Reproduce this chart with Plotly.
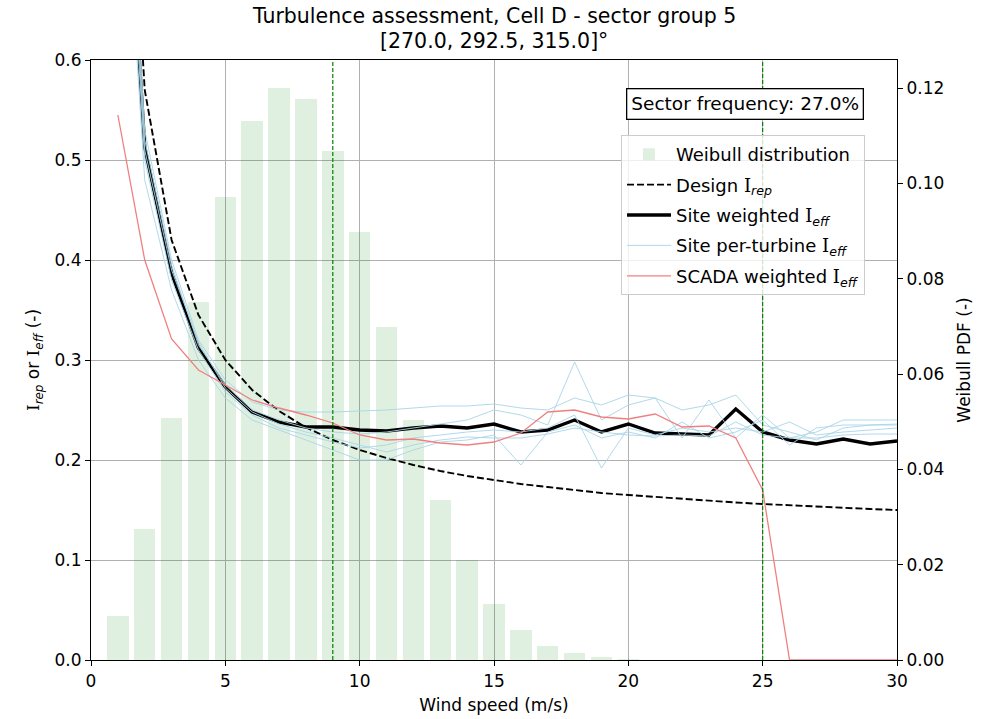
import plotly.graph_objects as go

wind_speed = list(range(1, 31))

weibull_pdf = [0.0092, 0.0275, 0.0508, 0.0751, 0.0972, 0.1131, 0.1200, 0.1178, 0.1068, 0.0898,
               0.0699, 0.0504, 0.0336, 0.0210, 0.0118, 0.0063, 0.0029, 0.0015, 0.0006, 0.0002,
               0.0001, 0, 0, 0, 0, 0, 0, 0, 0, 0]

design_irep = [1.02, 0.57, 0.42, 0.345, 0.300, 0.270, 0.249, 0.2325, 0.220, 0.210,
               0.202, 0.195, 0.189, 0.184, 0.180, 0.176, 0.173, 0.170, 0.167, 0.165,
               0.163, 0.161, 0.159, 0.1575, 0.156, 0.1546, 0.1533, 0.152, 0.151, 0.150]

site_weighted = [0.95, 0.513, 0.387, 0.312, 0.273, 0.248, 0.238, 0.233, 0.233, 0.230,
                 0.229, 0.232, 0.234, 0.232, 0.236, 0.228, 0.230, 0.240, 0.228, 0.236,
                 0.227, 0.226, 0.225, 0.251, 0.228, 0.220, 0.216, 0.221, 0.216, 0.219]

scada_weighted = [0.545, 0.400, 0.321, 0.290, 0.275, 0.260, 0.252, 0.245, 0.237, 0.225,
                  0.220, 0.221, 0.217, 0.215, 0.218, 0.227, 0.248, 0.250, 0.243, 0.241,
                  0.246, 0.233, 0.234, 0.222, 0.170, 0.0, 0.0, 0.0, 0.0, 0.0]

turbine_1 = [1.00, 0.53, 0.40, 0.320, 0.280, 0.258, 0.250, 0.248, 0.248, 0.249,
             0.250, 0.252, 0.254, 0.254, 0.256, 0.252, 0.250, 0.262, 0.255, 0.265,
             0.262, 0.250, 0.255, 0.265, 0.235, 0.228, 0.220, 0.232, 0.235, 0.235]
turbine_2 = [0.98, 0.52, 0.395, 0.315, 0.275, 0.250, 0.240, 0.232, 0.228, 0.226,
             0.228, 0.232, 0.236, 0.240, 0.250, 0.245, 0.235, 0.298, 0.240, 0.255,
             0.262, 0.222, 0.260, 0.222, 0.245, 0.222, 0.228, 0.240, 0.240, 0.240]
turbine_3 = [0.90, 0.48, 0.370, 0.300, 0.262, 0.240, 0.230, 0.220, 0.210, 0.200,
             0.200, 0.210, 0.218, 0.220, 0.225, 0.195, 0.228, 0.235, 0.222, 0.228,
             0.222, 0.238, 0.222, 0.228, 0.240, 0.215, 0.232, 0.235, 0.235, 0.236]
turbine_4 = [0.95, 0.50, 0.380, 0.310, 0.268, 0.245, 0.232, 0.225, 0.218, 0.212,
             0.215, 0.222, 0.225, 0.228, 0.230, 0.228, 0.232, 0.245, 0.192, 0.232,
             0.225, 0.232, 0.228, 0.232, 0.228, 0.238, 0.225, 0.228, 0.230, 0.232]
turbine_5 = [0.97, 0.51, 0.390, 0.318, 0.272, 0.248, 0.236, 0.228, 0.222, 0.215,
             0.208, 0.215, 0.220, 0.223, 0.222, 0.222, 0.226, 0.232, 0.228, 0.225,
             0.224, 0.225, 0.224, 0.238, 0.225, 0.222, 0.222, 0.225, 0.226, 0.226]
per_turbine = [turbine_1, turbine_2, turbine_3, turbine_4, turbine_5]

ref_speeds = [9, 25]
sector_frequency = 27.0
x_ticks = [0, 5, 10, 15, 20, 25, 30]
title_lines = ["Turbulence assessment, Cell D - sector group 5", "[270.0, 292.5, 315.0]°"]

FONT = "DejaVu Sans, sans-serif"
I_ = '<span style="font-family:DejaVu Serif">I</span>'

fig = go.Figure()

fig.add_trace(go.Bar(x=wind_speed, y=weibull_pdf, width=0.8, yaxis="y",
                     marker=dict(color="rgba(0,128,0,0.12)", line=dict(width=0)),
                     name="Weibull distribution", legendgroup="g1"))

fig.add_trace(go.Scatter(x=wind_speed, y=design_irep, mode="lines", yaxis="y2",
                         line=dict(color="black", width=1.9, dash="7px,3px"),
                         name="Design " + I_ + "<sub><i>rep</i></sub>", legendgroup="g2"))

fig.add_trace(go.Scatter(x=wind_speed, y=site_weighted, mode="lines", yaxis="y2",
                         line=dict(color="black", width=3.4),
                         name="Site weighted " + I_ + "<sub><i>eff</i></sub>", legendgroup="g3"))

for i, t in enumerate(per_turbine):
    fig.add_trace(go.Scatter(x=wind_speed, y=t, mode="lines", yaxis="y2",
                             line=dict(color="#a8d5e8", width=0.9),
                             name="Site per-turbine " + I_ + "<sub><i>eff</i></sub>",
                             legendgroup="g4", showlegend=(i == 0)))

fig.add_trace(go.Scatter(x=wind_speed, y=scada_weighted, mode="lines", yaxis="y2",
                         line=dict(color="#f08080", width=1.3),
                         name="SCADA weighted " + I_ + "<sub><i>eff</i></sub>", legendgroup="g5"))

for v in ref_speeds:
    fig.add_shape(type="line", xref="x", yref="paper", x0=v, x1=v, y0=0, y1=1,
                  line=dict(color="green", width=1.2, dash="4px,2px"), layer="above")

fig.add_annotation(xref="paper", yref="paper", x=0.8114, y=0.9267,
                   xanchor="center", yanchor="middle",
                   text=f"Sector frequency: {sector_frequency:.1f}%", showarrow=False,
                   font=dict(size=18.5, color="black", family=FONT),
                   bordercolor="black", borderwidth=1.3, borderpad=4, bgcolor="white")

for line_text, ypos in zip(title_lines, [1.0725, 1.031]):
    fig.add_annotation(xref="paper", yref="paper", x=0.5, y=ypos,
                       xanchor="center", yanchor="middle", showarrow=False,
                       text=line_text, font=dict(size=20.5, color="black", family=FONT))

axis_common = dict(showline=True, linecolor="black", linewidth=1.2, ticks="outside",
                   ticklen=5, tickcolor="black", tickfont=dict(size=17, color="black", family=FONT),
                   zeroline=False, automargin=False)

fig.update_layout(
    width=997, height=719,
    margin=dict(l=91, r=100, t=60, b=59),
    plot_bgcolor="white", paper_bgcolor="white",
    font=dict(family=FONT, size=17, color="black"),
    bargap=0,
    xaxis=dict(range=[0, 30], tickvals=x_ticks, mirror=True, showgrid=True,
               gridcolor="#b0b0b0", gridwidth=1,
               title=dict(text="Wind speed (m/s)", font=dict(size=17, family=FONT), standoff=9),
               **axis_common),
    yaxis=dict(range=[0, 0.1259], dtick=0.02, tickformat=".2f", side="right", showgrid=False,
               title=dict(text="Weibull PDF (-)", font=dict(size=17, family=FONT), standoff=14),
               **axis_common),
    yaxis2=dict(range=[0, 0.6], dtick=0.1, tickformat=".1f", side="left", overlaying="y",
                showgrid=True, gridcolor="#b0b0b0", gridwidth=1,
                title=dict(text=I_ + "<sub><i>rep</i></sub> or " + I_ + "<sub><i>eff</i></sub> (-)",
                           font=dict(size=17, family=FONT), standoff=10),
                **axis_common),
    legend=dict(x=0.6576, y=0.875, xanchor="left", yanchor="top",
                bgcolor="rgba(255,255,255,0.8)", bordercolor="#cccccc", borderwidth=1,
                font=dict(size=18, family=FONT, color="black"),
                traceorder="grouped", tracegroupgap=4, itemwidth=44),
)

fig.write_html("out.html")
